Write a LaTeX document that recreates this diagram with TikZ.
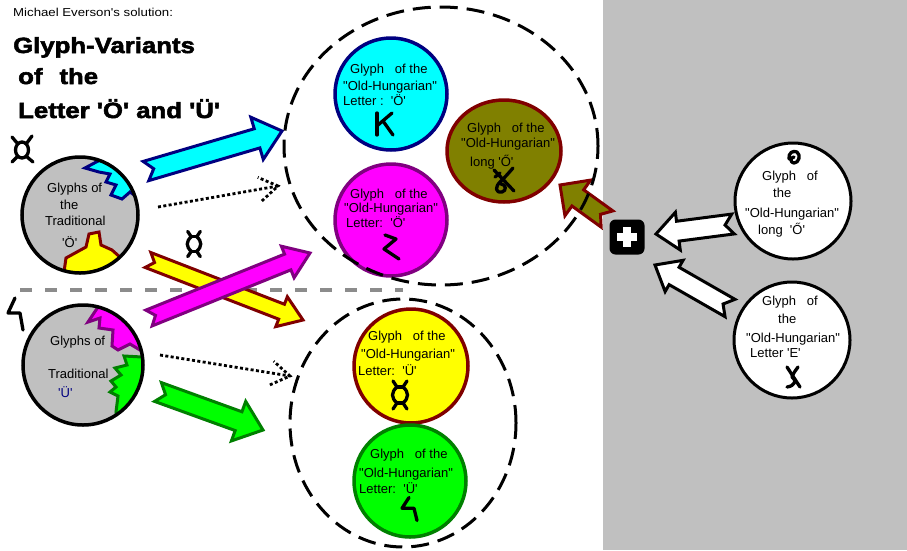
\documentclass[tikz,border=0pt]{standalone}
\usepackage{fontspec}
\setmainfont{Liberation Sans}[Ligatures=TeXOff]
\newfontfamily\titlefont{Liberation Sans}[Ligatures=TeXOff,FakeStretch=1.17,BoldFeatures={FakeBold=2.5}]
\newfontfamily\widefont{Liberation Sans}[Ligatures=TeXOff,FakeStretch=1.15]
\usetikzlibrary{calc,shapes.geometric}

\definecolor{panelgray}{HTML}{C0C0C0}
\definecolor{navyb}{HTML}{000080}
\definecolor{purpleb}{HTML}{800080}
\definecolor{maroonb}{HTML}{800000}
\definecolor{darkgreenb}{HTML}{008000}
\definecolor{olivef}{HTML}{808000}
\definecolor{cyanf}{HTML}{00FFFF}
\definecolor{magentaf}{HTML}{FF00FF}
\definecolor{yellowf}{HTML}{FFFF00}
\definecolor{greenf}{HTML}{00FF00}
\definecolor{sepgray}{HTML}{8C8C8C}

% fat arrow: style, tail, tip, shaft half width, head half width, head length, notch depth
\newcommand\fatarrow[7]{%
  \filldraw[#1] ($(#2)!#4!90:(#3)$) -- ($(#2)!#7!(#3)$) -- ($(#2)!#4!-90:(#3)$)
    -- ($(#3)!#6!(#2)!#4!90:(#2)$) -- ($(#3)!#6!(#2)!#5!90:(#2)$) -- (#3)
    -- ($(#3)!#6!(#2)!#5!-90:(#2)$) -- ($(#3)!#6!(#2)!#4!-90:(#2)$) -- cycle;}
% dotted arrow with an open head
\newcommand\dotarrow[2]{%
  \draw[dotline] (#1) -- (#2);
  \draw[dotline] ($(#2)!22pt!33:(#1)$) -- (#2) -- ($(#2)!22pt!-33:(#1)$);}

\tikzset{
  txt/.style={inner sep=0pt, anchor=base west, font=\fontsize{13}{15}\selectfont},
  bubble/.style={circle, line width=3.5pt, inner sep=0pt, minimum size=#1},
  group/.style={ellipse, draw, line width=3pt, dash pattern=on 18pt off 9pt, inner sep=0pt},
  glyphline/.style={line width=3.3pt, line cap=round, line join=round},
  dotline/.style={line width=2.8pt, dash pattern=on 3pt off 2.4pt},
  arrcyan/.style={fill=cyanf, draw=navyb, line width=3pt},
  arryellow/.style={fill=yellowf, draw=maroonb, line width=3pt},
  arrmagenta/.style={fill=magentaf, draw=purpleb, line width=3pt},
  arrgreen/.style={fill=greenf, draw=darkgreenb, line width=3pt},
  arrolive/.style={fill=olivef, draw=maroonb, line width=3pt},
  arrwhite/.style={fill=white, draw=black, line width=3pt},
  pics/tradoe/.style={code={
    \draw[glyphline] (0,0) ellipse (6.5pt and 8pt);
    \draw[glyphline] (-4.5,-6.5) -- (-10,-13) (4.5,-6.5) -- (10,-14) (-4.5,6.5) -- (-10,12) (4.5,6.5) -- (11,12);}},
  pics/lensglyph/.style={code={
    \draw[glyphline] (-7,-14) -- (-3,-8) .. controls (-9,-3) and (-9,3) .. (-3,8) -- (-7,14);
    \draw[glyphline] (7,-14) -- (3,-8) .. controls (9,-3) and (9,3) .. (3,8) -- (7,14);
    \draw[glyphline] (-3,-8) -- (3,-8) (-3,8) -- (3,8);}},
  pics/bolt/.style={code={
    \draw[glyphline] (0,-16) -- (-7,-1) -- (5,-1) -- (8,16);}},
  pics/kglyph/.style={code={
    \draw[glyphline] (-7,-11) -- (-7,11);
    \draw[glyphline] (8,-11) -- (-6,1);
    \draw[glyphline] (-1,-3) -- (9,11);}},
  pics/zglyph/.style={code={
    \draw[glyphline] (-6,-12) -- (5,-8) -- (-7,2) -- (8,12);}},
  pics/longoe/.style={code={
    \draw[glyphline] (-10,-10) -- (10,11);
    \draw[glyphline] (9,-12) .. controls (2,-4) .. (-4,2) .. controls (-9,7) and (-9,13) .. (-2,12) .. controls (3,11) and (2,4) .. (-3,4);
    \draw[glyphline] (-9,-3) -- (-4,-7);}},
  pics/curlglyph/.style={code={
    \draw[glyphline] (-5,2) .. controls (-6,-4) and (-1,-7) .. (3,-5) .. controls (7,-2) and (5,6) .. (0,6) .. controls (-4,6) and (-4,0) .. (0,0);}},
  pics/eglyph/.style={code={
    \draw[glyphline] (-6,-10) -- (7,10);
    \draw[glyphline] (5,-10) .. controls (0,-3) .. (-1,0) .. controls (4,3) and (2,9) .. (-6,10);}},
}

\begin{document}
\begin{tikzpicture}[x=1pt,y=-1pt]
\useasboundingbox (0,0) rectangle (907,550);
\fill[white] (0,0) rectangle (907,550);
% grey panel on the right
\fill[panelgray] (603,0) rectangle (907,550);

% separator between the two letters
\coordinate (sepL) at (20,290);
\coordinate (sepR) at (403,290);
\draw[sepgray, line width=4pt, dash pattern=on 12pt off 13pt] (sepL) -- (sepR);

% traditional glyph circles with their coloured segments
\fill[panelgray] (80,215) circle (58pt);
\begin{scope}
  \clip (80,215) circle (58pt);
  \filldraw[fill=cyanf, draw=navyb, line width=3pt] (104,150) -- (100,160) -- (85,168) -- (99,172) -- (110,174) -- (106,182) -- (116,185) -- (111,195) -- (122,199) -- (130,192) -- (137,197) -- (150,200) -- (150,150) -- cycle;
  \filldraw[fill=yellowf, draw=maroonb, line width=3pt] (60,290) -- (64,272) -- (66,258) -- (86,247) -- (89,234) -- (99,232) -- (101,245) -- (112,250) -- (121,258) -- (130,262) -- (130,290) -- cycle;
\end{scope}
\node[bubble=116pt, draw=black] (tradO) at (80,215) {};

\fill[panelgray] (83,365) circle (60pt);
\begin{scope}
  \clip (83,365) circle (60pt);
  \filldraw[fill=magentaf, draw=purpleb, line width=3pt] (95,298) -- (98,307) -- (88,322) -- (100,318) -- (99,328) -- (113,330) -- (112,346) -- (118,350) -- (130,344) -- (140,350) -- (160,350) -- (160,300) -- cycle;
  \filldraw[fill=greenf, draw=darkgreenb, line width=3pt] (160,352) -- (142,357) -- (124,356) -- (127,365) -- (115,368) -- (121,375) -- (111,381) -- (116,387) -- (110,392) -- (118,396) -- (116,412) -- (118,430) -- (160,430) -- cycle;
\end{scope}
\node[bubble=120pt, draw=black] (tradU) at (83,365) {};

% glyphs beside the traditional circles
\pic at (22,150) {tradoe};
\pic at (15,314) {bolt};
\pic[scale=0.9] at (194,244) {lensglyph};

% arrow end points
\coordinate (cyA) at (146,171);  \coordinate (cyB) at (282,131);
\coordinate (yeA) at (148,260);  \coordinate (yeB) at (303,320);
\coordinate (maA) at (149,318);  \coordinate (maB) at (310,253);
\coordinate (grA) at (158,392);  \coordinate (grB) at (263,430);
\coordinate (olA) at (607,219);  \coordinate (olB) at (560,185);
\coordinate (wtA) at (733,224);  \coordinate (wtB) at (656,234);
\coordinate (wbA) at (730,308);  \coordinate (wbB) at (655,265);
\coordinate (d1A) at (158,207);  \coordinate (d1B) at (278,186);
\coordinate (d2A) at (160,355);  \coordinate (d2B) at (290,376);

\fatarrow{arryellow}{yeA}{yeB}{8pt}{16pt}{23pt}{7pt}
\fatarrow{arrmagenta}{maA}{maB}{8.5pt}{17pt}{24pt}{7pt}
\fatarrow{arrcyan}{cyA}{cyB}{10pt}{22pt}{26pt}{8pt}
\fatarrow{arrgreen}{grA}{grB}{10pt}{21pt}{26pt}{8pt}
\fatarrow{arrolive}{olA}{olB}{10pt}{22pt}{22pt}{8pt}
\fatarrow{arrwhite}{wtA}{wtB}{10pt}{19pt}{22pt}{8pt}
\fatarrow{arrwhite}{wbA}{wbB}{10pt}{18pt}{22pt}{8pt}
\dotarrow{d1A}{d1B}
\dotarrow{d2A}{d2B}

% Old-Hungarian glyph circles
\node[bubble=112pt, fill=cyanf, draw=navyb] (cyanO) at (391,94) {};
\node[bubble=112pt, fill=magentaf, draw=purpleb] (magO) at (391,220) {};
\node[ellipse, line width=3.5pt, inner sep=0pt, minimum width=114pt, minimum height=102pt, fill=olivef, draw=maroonb] (oliveO) at (504,151) {};
\node[bubble=114pt, fill=yellowf, draw=maroonb] (yelU) at (411,366) {};
\node[bubble=112pt, fill=greenf, draw=darkgreenb] (grnU) at (410,481) {};
\node[bubble=116pt, fill=white, draw=black, line width=3pt] (whiteO) at (793,201) {};
\node[bubble=116pt, fill=white, draw=black, line width=3pt] (whiteE) at (792,340) {};

% dashed groups
\node[group, minimum width=314pt, minimum height=278pt] (groupO) at (441,146) {};
\node[group, minimum width=226pt, minimum height=248pt] (groupU) at (403,423) {};

% plus sign
\node[fill=black, rounded corners=6pt, minimum size=35pt, inner sep=0pt] (plus) at (627,237) {};
\fill[white] ($(plus.center)+(-10,-4)$) rectangle ($(plus.center)+(10,4)$);
\fill[white] ($(plus.center)+(-4,-10)$) rectangle ($(plus.center)+(4,10)$);

% glyphs inside the circles
\pic at (384,124) {kglyph};
\pic at (391,247) {zglyph};
\pic at (504,180) {longoe};
\pic at (400,395) {lensglyph};
\pic[yscale=0.72] at (409,509) {bolt};
\pic at (794,157) {curlglyph};
\pic at (793,377) {eglyph};

% headings
\node[anchor=base west, inner sep=0pt, font=\widefont\fontsize{11.5}{13}\selectfont] (ttl) at (13,16) {Michael Everson's solution:};
\node[anchor=base west, inner sep=0pt, font=\titlefont\bfseries\fontsize{22}{26}\selectfont] (h1) at (13,53) {Glyph-Variants};
\node[anchor=base west, inner sep=0pt, font=\titlefont\bfseries\fontsize{22}{26}\selectfont] (h2) at (18,84) {of\hspace{17pt}the};
\node[anchor=base west, inner sep=0pt, font=\titlefont\bfseries\fontsize{22}{26}\selectfont] (h3) at (18,118) {Letter 'Ö' and 'Ü'};

% texts of the traditional circles
\node[txt] (to1) at (47,192) {Glyphs of};
\node[txt] (to2) at (60,209) {the};
\node[txt] (to3) at (45,225) {Traditional};
\node[txt] (to4) at (62,247) {'Ö'};
\node[txt] (tu1) at (50,345) {Glyphs of};
\node[txt] (tu2) at (48,378) {Traditional};
\node[txt, text=navyb] (tu3) at (58,397) {'Ü'};

% texts of the Old-Hungarian circles
\node[txt] (cy1) at (350,73) {Glyph~~~of the};
\node[txt] (cy2) at (343,90) {"Old-Hungarian"};
\node[txt] (cy3) at (343,105) {Letter :~~'Ö'};
\node[txt] (ma1) at (350,198) {Glyph~~~of the};
\node[txt] (ma2) at (344,212) {"Old-Hungarian"};
\node[txt] (ma3) at (346,227) {Letter:~~'Ö'};
\node[txt] (ol1) at (467,132) {Glyph~~~of the};
\node[txt] (ol2) at (461,147) {"Old-Hungarian"};
\node[txt] (ol3) at (470,166) {long 'Ő'};
\node[txt] (ye1) at (368,340) {Glyph~~~of the};
\node[txt] (ye2) at (361,358) {"Old-Hungarian"};
\node[txt] (ye3) at (358,375) {Letter:~~'Ü'};
\node[txt] (gr1) at (370,458) {Glyph~~~of the};
\node[txt] (gr2) at (359,477) {"Old-Hungarian"};
\node[txt] (gr3) at (359,493) {Letter:~~'Ü'};
\node[txt] (wt1) at (762,180) {Glyph~~~of};
\node[txt] (wt2) at (773,197) {the};
\node[txt] (wt3) at (745,217) {"Old-Hungarian"};
\node[txt] (wt4) at (758,234) {long~~'Ő'};
\node[txt] (wb1) at (762,305) {Glyph~~~of};
\node[txt] (wb2) at (778,323) {the};
\node[txt] (wb3) at (746,342) {"Old-Hungarian"};
\node[txt] (wb4) at (750,357) {Letter 'E'};
\end{tikzpicture}
\end{document}
